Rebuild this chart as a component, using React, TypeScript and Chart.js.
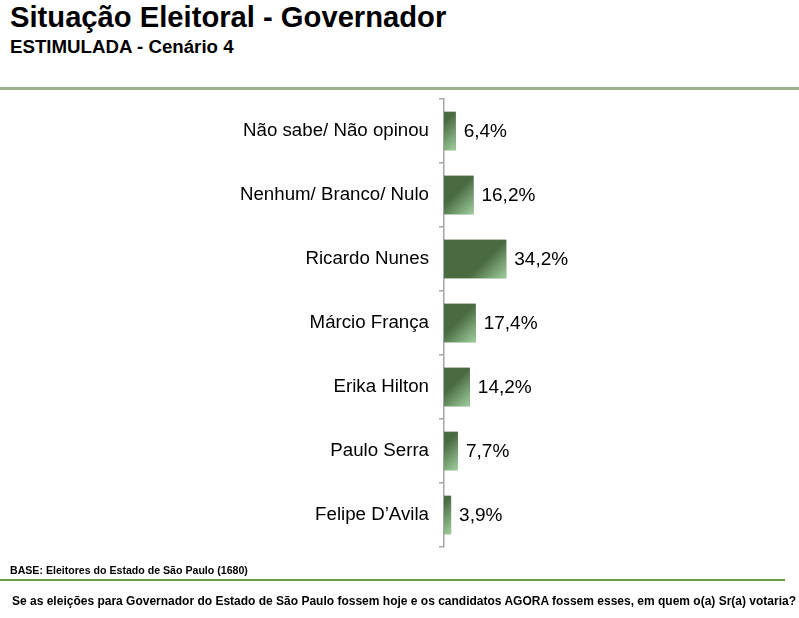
import React, { useEffect, useRef } from "react";
import { Chart, registerables } from "chart.js";

Chart.register(...registerables);

const categories = [
  "Não sabe/ Não opinou",
  "Nenhum/ Branco/ Nulo",
  "Ricardo Nunes",
  "Márcio França",
  "Erika Hilton",
  "Paulo Serra",
  "Felipe D’Avila",
];
const values = [6.4, 16.2, 34.2, 17.4, 14.2, 7.7, 3.9];

const FONT = "'Liberation Sans', Arial, sans-serif";
const BAR_DARK = "#4a6a42";
const BAR_LIGHT = "#9fd09e";

const fmt = (v: number) => v.toFixed(1).replace(".", ",") + "%";

const barPlugin = {
  id: "barDecor",
  afterDatasetsDraw(chart: any) {
    const ctx = chart.ctx;
    const meta = chart.getDatasetMeta(0);
    meta.data.forEach((el: any, i: number) => {
      const { x, y, base, height } = el.getProps(["x", "y", "base", "height"], true);
      const left = Math.min(base, x);
      const right = Math.max(base, x);
      const top = y - height / 2;
      const bottom = y + height / 2;
      const a = 26;
      const g = ctx.createLinearGradient(right - a, bottom - a, right, bottom);
      g.addColorStop(0, BAR_DARK);
      g.addColorStop(0.25, BAR_DARK);
      g.addColorStop(1, BAR_LIGHT);
      ctx.save();
      ctx.fillStyle = g;
      ctx.fillRect(left, top, right - left, bottom - top);
      ctx.fillStyle = "#000";
      ctx.font = `19px ${FONT}`;
      ctx.textAlign = "left";
      ctx.textBaseline = "middle";
      ctx.fillText(fmt(values[i]), right + 8, y + 1);
      ctx.restore();
    });
  },
};

export default function App() {
  const ref = useRef<HTMLCanvasElement | null>(null);
  useEffect(() => {
    if (!ref.current) return;
    const chart = new Chart(ref.current, {
      type: "bar",
      data: {
        labels: categories,
        datasets: [
          {
            data: values,
            backgroundColor: BAR_DARK,
            borderWidth: 0,
            barPercentage: 0.6,
            categoryPercentage: 1,
          },
        ],
      },
      options: {
        indexAxis: "y",
        animation: false,
        responsive: true,
        maintainAspectRatio: false,
        layout: { padding: { top: 99, bottom: 71, left: 0, right: 173 } },
        plugins: { legend: { display: false }, tooltip: { enabled: false } },
        scales: {
          x: { display: false, min: 0, max: 100 },
          y: {
            afterFit: (s: any) => {
              s.width = 444;
            },
            grid: {
              display: true,
              drawOnChartArea: false,
              drawTicks: true,
              tickLength: 5,
              color: "#a6a6a6",
              lineWidth: 1.5,
              offset: true,
            },
            border: { display: true, color: "#a6a6a6", width: 1.5 },
            ticks: {
              color: "#000",
              font: { family: FONT, size: 18.7 },
              padding: 10,
            },
          },
        },
      },
      plugins: [barPlugin],
    });
    return () => chart.destroy();
  }, []);

  const abs = (s: React.CSSProperties): React.CSSProperties => ({
    position: "absolute",
    whiteSpace: "nowrap",
    lineHeight: 1,
    fontFamily: FONT,
    color: "#000",
    ...s,
  });

  return (
    <div style={{ position: "absolute", left: 0, top: 0, width: 799, height: 618, background: "#fff", overflow: "hidden" }}>
      <div style={abs({ left: 10, top: 2.5, fontSize: 29.2, fontWeight: "bold" })}>Situação Eleitoral - Governador</div>
      <div style={abs({ left: 10, top: 37.5, fontSize: 18.7, fontWeight: "bold" })}>ESTIMULADA - Cenário 4</div>
      <div style={{ position: "absolute", left: 0, top: 87, width: 799, height: 2.5, background: "#9cb28c" }} />
      <div style={{ position: "absolute", left: 0, top: 0, width: 799, height: 618 }}>
        <canvas ref={ref} />
      </div>
      <div style={abs({ left: 10, top: 564.5, fontSize: 10.6, fontWeight: "bold" })}>BASE: Eleitores do Estado de São Paulo (1680)</div>
      <div style={{ position: "absolute", left: 0, top: 579, width: 785, height: 2, background: "#6d9a45" }} />
      <div style={abs({ left: 12, top: 595, fontSize: 12, fontWeight: "bold" })}>
        Se as eleições para Governador do Estado de São Paulo fossem hoje e os candidatos AGORA fossem esses, em quem o(a) Sr(a) votaria?
      </div>
    </div>
  );
}
